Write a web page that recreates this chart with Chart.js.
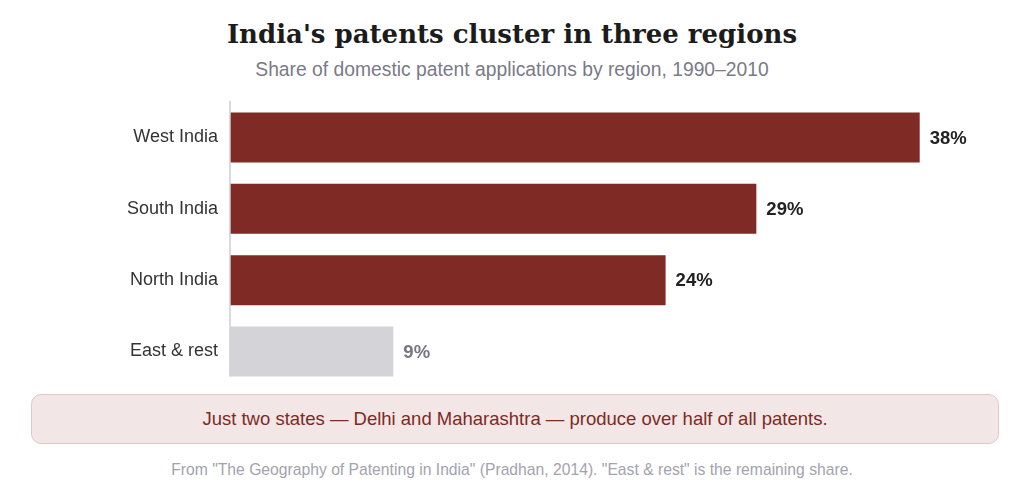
<!DOCTYPE html>
<html>
<head>
<meta charset="utf-8">
<script src="https://cdn.jsdelivr.net/npm/chart.js@4"></script>
<style>
  body { margin: 0; background: #fff; font-family: "Liberation Sans", Arial, sans-serif; }
  .page { position: relative; width: 1024px; height: 502px; }
  h1 { position: absolute; top: 19px; left: 0; width: 1024px; margin: 0; text-align: center;
       font-family: "DejaVu Serif", serif; font-weight: bold; font-size: 26px; color: #1c1c1c; }
  .sub { position: absolute; top: 59px; left: 0; width: 1024px; text-align: center;
         font-size: 19.3px; color: #7a7a88; }
  #barchart { position: absolute; top: 87px; left: 0; }
  .note { position: absolute; top: 394px; left: 31px; width: 968px; height: 50px; box-sizing: border-box;
          background: #f3e6e6; border: 1px solid #e2c8c8; border-radius: 10px;
          text-align: center; line-height: 48px; font-size: 18.5px; color: #7f2a24; }
  .src { position: absolute; top: 461px; left: 0; width: 1024px; text-align: center;
         font-size: 15.7px; color: #a3a3ad; }
</style>
</head>
<body>
<div class="page">
  <h1>India's patents cluster in three regions</h1>
  <div class="sub">Share of domestic patent applications by region, 1990–2010</div>
  <canvas id="barchart" width="1024" height="315"></canvas>
  <div class="note">Just two states — Delhi and Maharashtra — produce over half of all patents.</div>
  <div class="src">From "The Geography of Patenting in India" (Pradhan, 2014). "East &amp; rest" is the remaining share.</div>
</div>
<script>
const regions = ['West India', 'South India', 'North India', 'East & rest'];
const shares = [38, 29, 24, 9];
const barColors = ['#7f2a24', '#7f2a24', '#7f2a24', '#d4d3d8'];
const labelColors = ['#222222', '#222222', '#222222', '#77777f'];

// value labels at the end of each bar, plus the axis line that stops at the last bar
const valueLabels = {
  id: 'valueLabels',
  afterDatasetsDraw(chart) {
    const c = chart.ctx;
    const meta = chart.getDatasetMeta(0);
    const area = chart.chartArea;
    const last = meta.data[meta.data.length - 1];
    c.save();
    c.strokeStyle = '#cfcfd4';
    c.lineWidth = 1.5;
    c.beginPath();
    c.moveTo(area.left, area.top - 1);
    c.lineTo(area.left, last.y + last.height / 2);
    c.stroke();

    c.font = 'bold 18.5px "Liberation Sans", Arial, sans-serif';
    c.textBaseline = 'middle';
    c.textAlign = 'left';
    meta.data.forEach((bar, i) => {
      c.fillStyle = labelColors[i];
      c.fillText(shares[i] + '%', bar.x + 10, bar.y + 1);
    });
    c.restore();
  }
};

const ctx = document.getElementById('barchart');
new Chart(ctx, {
  type: 'bar',
  data: {
    labels: regions,
    datasets: [{
      data: shares,
      backgroundColor: barColors,
      categoryPercentage: 1,
      barPercentage: 0.7
    }]
  },
  options: {
    indexAxis: 'y',
    responsive: false,
    animation: false,
    layout: { padding: { left: 0, right: 68, top: 0, bottom: 0 } },
    plugins: { legend: { display: false }, tooltip: { enabled: false } },
    scales: {
      x: { display: false, min: 0, max: 40 },
      y: {
        afterFit: s => { s.width = 230; },
        grid: { display: false },
        border: { display: false },
        ticks: { color: '#333333', padding: 4, font: { size: 18, family: '"Liberation Sans", Arial, sans-serif' } }
      }
    }
  },
  plugins: [valueLabels]
});
</script>
</body>
</html>
